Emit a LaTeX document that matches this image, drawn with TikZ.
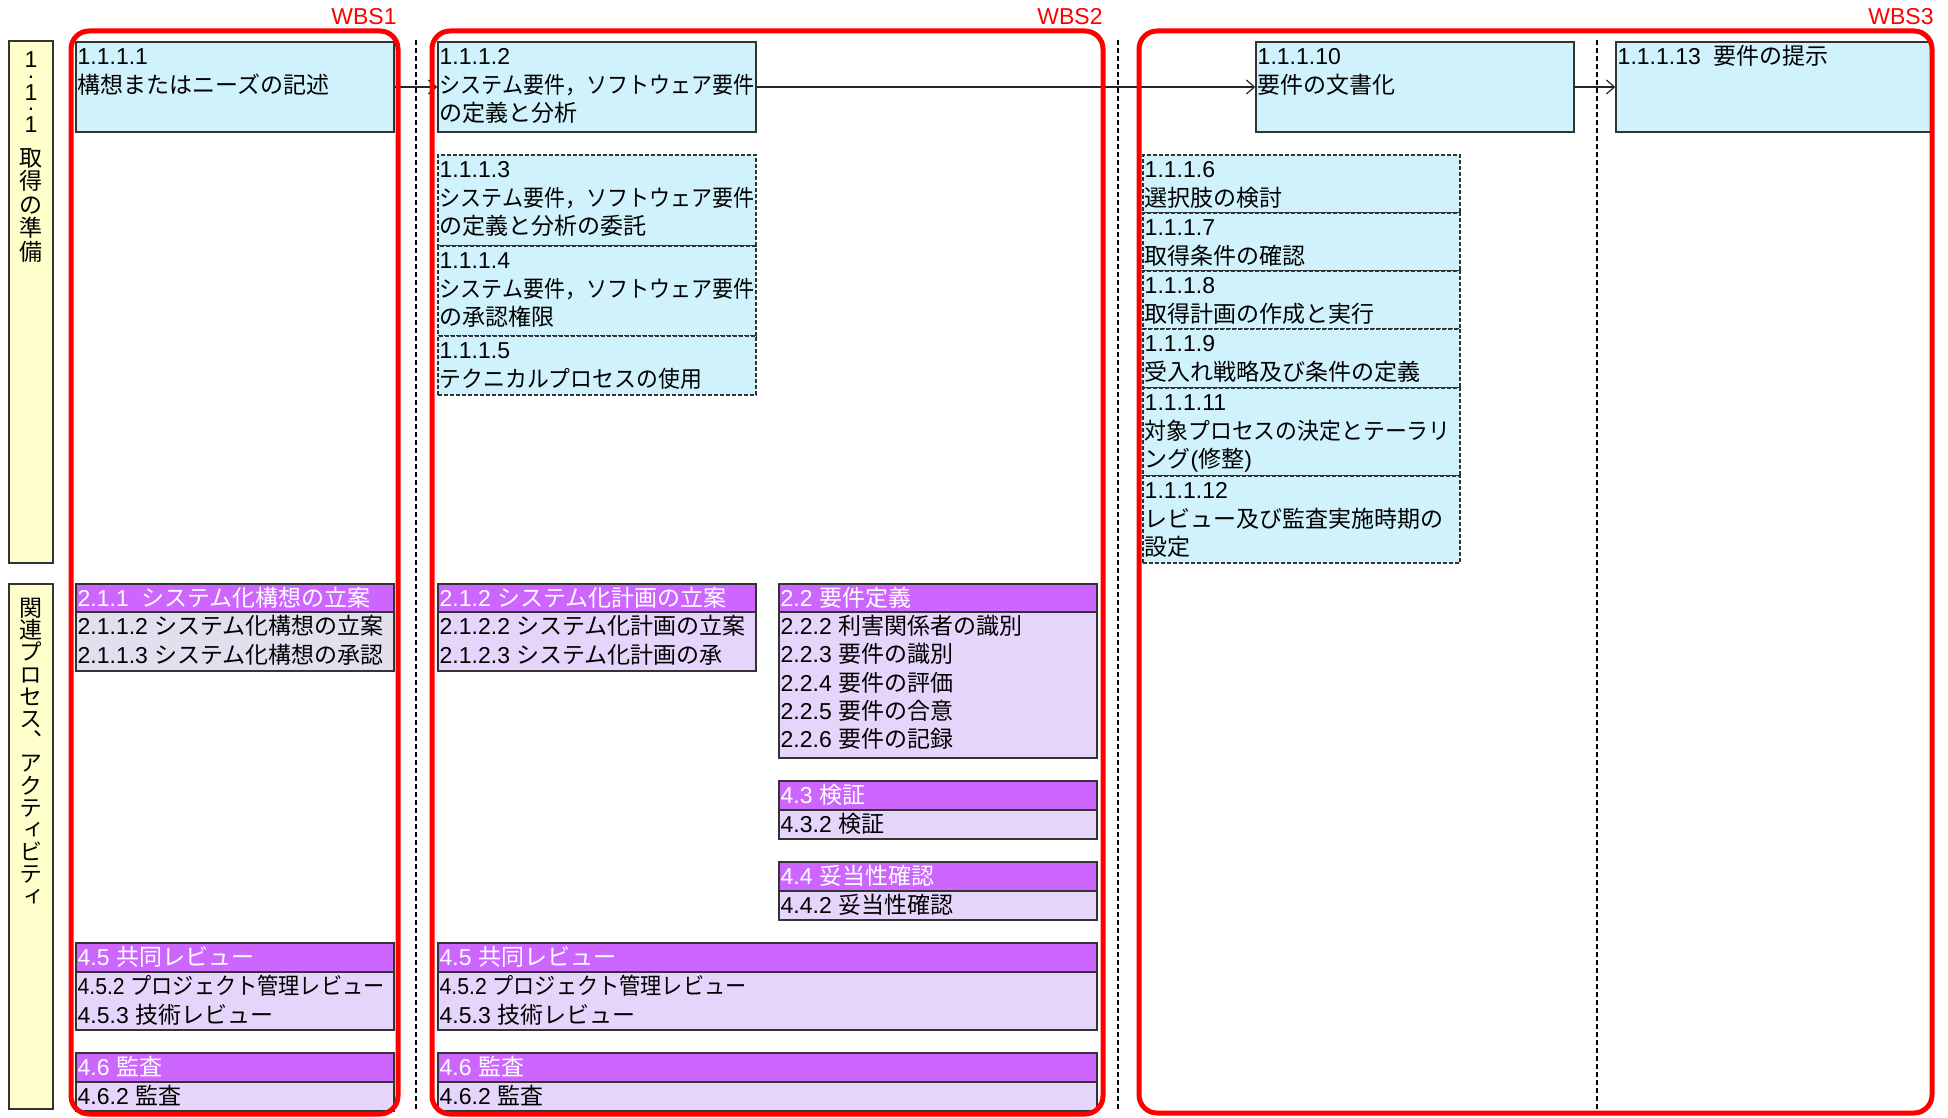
\documentclass[tikz,border=0pt]{standalone}
\usepackage{fontspec}
\usepackage{graphicx}
\setmainfont{Liberation Sans}
\newfontfamily\jpfont{Noto Sans CJK JP}
\newfontfamily\jpvfont{Noto Sans CJK JP}[RawFeature=+vert]
\usetikzlibrary{fit,arrows.meta}
\definecolor{cyf}{HTML}{D0F2FC}
\definecolor{yef}{HTML}{FFFFCC}
\definecolor{phf}{HTML}{CC66FF}
\definecolor{pbf}{HTML}{E6D5FA}
\definecolor{pgf}{HTML}{E4DFEE}
\definecolor{bdc}{HTML}{333333}
\newcommand\JP[1]{{\jpfont #1}}
\newcommand\JV[1]{{\jpvfont #1}}
\newcommand\st{\rule{0pt}{11.5pt}}
\newcommand\sq[2]{\scalebox{#1}[1]{#2}}
\tikzset{
  wbsframe/.style={draw=red, line width=2.5pt, rounded corners=9pt, inner sep=0pt},
  wbslbl/.style={anchor=base east, inner sep=0pt, text=red, font=\fontsize{11.5}{12}\selectfont},
  cybox/.style={draw=bdc, fill=cyf, line width=0.7pt, inner sep=0pt},
  cydash/.style={cybox, dash pattern=on 2pt off 1pt},
  phbox/.style={draw=bdc, fill=phf, line width=0.7pt, inner sep=0pt},
  pbbox/.style={draw=bdc, fill=pbf, line width=0.7pt, inner sep=0pt},
  pgbox/.style={draw=bdc, fill=pgf, line width=0.7pt, inner sep=0pt},
  yebox/.style={draw=bdc, fill=yef, line width=0.7pt, inner sep=0pt},
  tx/.style={anchor=north west, inner sep=0pt, align=left, font=\fontsize{11.5}{14.3}\selectfont},
  wtx/.style={tx, text=white},
  vtx/.style={anchor=north, inner sep=0pt, align=center, font={\fontsize{11.5}{0}\selectfont\lineskiplimit=-100pt\relax\lineskip=0pt\relax}},
  sepl/.style={draw=black, line width=0.7pt, dash pattern=on 2.5pt off 1.5pt},
  arr/.style={draw=black!85, line width=0.6pt, -{Straight Barb[length=4pt,width=7pt]}}
}
\begin{document}
\begin{tikzpicture}[x=0.5pt,y=-0.5pt]
\useasboundingbox (0,0) rectangle (1948,1118);
% separators
\draw[sepl] (416,40) -- (416,1110);
\draw[sepl] (1118,40) -- (1118,1110);
\draw[sepl] (1597,40) -- (1597,1110);
% side labels
\node[yebox, fit={(9,41) (53,563)}] (y1) {};
\node[vtx] (y1t) at (31,47) {\rule{0pt}{10pt}1\\[5.5pt].\\[11pt]1\\[5pt].\\[11pt]1\\[17pt]\JP{取}\\[11.75pt]\JP{得}\\[11.75pt]\JP{の}\\[11.75pt]\JP{準}\\[11.75pt]\JP{備}};
\node[yebox, fit={(9,584) (53,1109)}] (y2) {};
\node[vtx] (y2t) at (31,596) {\rule{0pt}{10pt}\JV{関}\\[11.1pt]\JV{連}\\[11.1pt]\JV{プ}\\[11.1pt]\JV{ロ}\\[11.1pt]\JV{セ}\\[11.1pt]\JV{ス}\\[11.1pt]\JV{、}\\[11.1pt]\JV{ア}\\[11.1pt]\JV{ク}\\[11.1pt]\JV{テ}\\[11.1pt]\JV{ィ}\\[11.1pt]\JV{ビ}\\[11.1pt]\JV{テ}\\[11.1pt]\JV{ィ}};
% top row cyan boxes
\node[cybox, fit={(76,42) (394,132)}] (a1) {};
\node[tx] at ([xshift=1pt]a1.north west) {\st 1.1.1.1\\\JP{構想またはニーズの記述}};
\node[cybox, fit={(438,42) (756,132)}] (a2) {};
\node[tx] at ([xshift=1pt]a2.north west) {\st 1.1.1.2\\\sq{0.913}{\JP{システム要件，ソフトウェア要件}}\\\JP{の定義と分析}};
\node[cybox, fit={(1256,42) (1574,132)}] (a10) {};
\node[tx] at ([xshift=1pt]a10.north west) {\st 1.1.1.10\\\JP{要件の文書化}};
\node[cybox, fit={(1616,42) (1932,132)}] (a13) {};
\node[tx] at ([xshift=1pt]a13.north west) {\st 1.1.1.13\ \ \JP{要件の提示}};
% WBS2 dashed boxes
\node[cydash, fit={(438,155) (756,246)}] (a3) {};
\node[tx] at ([xshift=1pt]a3.north west) {\st 1.1.1.3\\\sq{0.913}{\JP{システム要件，ソフトウェア要件}}\\\JP{の定義と分析の委託}};
\node[cydash, fit={(438,246) (756,336)}] (a4) {};
\node[tx] at ([xshift=1pt]a4.north west) {\st 1.1.1.4\\\sq{0.913}{\JP{システム要件，ソフトウェア要件}}\\\JP{の承認権限}};
\node[cydash, fit={(438,336) (756,395)}] (a5) {};
\node[tx] at ([xshift=1pt]a5.north west) {\st 1.1.1.5\\\sq{0.95}{\JP{テクニカルプロセスの使用}}};
% WBS3 dashed boxes
\node[cydash, fit={(1143,155) (1460,213)}] (a6) {};
\node[tx] at ([xshift=1pt]a6.north west) {\st 1.1.1.6\\\JP{選択肢の検討}};
\node[cydash, fit={(1143,213) (1460,271)}] (a7) {};
\node[tx] at ([xshift=1pt]a7.north west) {\st 1.1.1.7\\\JP{取得条件の確認}};
\node[cydash, fit={(1143,271) (1460,329)}] (a8) {};
\node[tx] at ([xshift=1pt]a8.north west) {\st 1.1.1.8\\\JP{取得計画の作成と実行}};
\node[cydash, fit={(1143,329) (1460,388)}] (a9) {};
\node[tx] at ([xshift=1pt]a9.north west) {\st 1.1.1.9\\\JP{受入れ戦略及び条件の定義}};
\node[cydash, fit={(1143,388) (1460,476)}] (a11) {};
\node[tx] at ([xshift=1pt]a11.north west) {\st 1.1.1.11\\\sq{0.95}{\JP{対象プロセスの決定とテーラリ}}\\\JP{ング}(\JP{修整})};
\node[cydash, fit={(1143,476) (1460,563)}] (a12) {};
\node[tx] at ([xshift=1pt]a12.north west) {\st 1.1.1.12\\\JP{レビュー及び監査実施時期の}\\\JP{設定}};
% purple boxes WBS1
\node[phbox, fit={(76,584) (394,612)}] (p1h) {};
\node[wtx] at ([xshift=1pt]p1h.north west) {\st 2.1.1\ \ \JP{システム化構想の立案}};
\node[pgbox, fit={(76,612) (394,671)}] (p1b) {};
\node[tx] at ([xshift=1pt]p1b.north west) {\st 2.1.1.2 \JP{システム化構想の立案}\\2.1.1.3 \JP{システム化構想の承認}};
\node[phbox, fit={(76,943) (394,972)}] (p6h) {};
\node[wtx] at ([xshift=1pt]p6h.north west) {\st 4.5 \JP{共同レビュー}};
\node[pbbox, fit={(76,972) (394,1030)}] (p6b) {};
\node[tx] at ([xshift=1pt]p6b.north west) {\st\sq{0.92}{4.5.2 \JP{プロジェクト管理レビュー}}\\4.5.3 \JP{技術レビュー}};
\node[phbox, fit={(76,1053) (394,1082)}] (p7h) {};
\node[wtx] at ([xshift=1pt]p7h.north west) {\st 4.6 \JP{監査}};
\node[pbbox, fit={(76,1082) (394,1111)}] (p7b) {};
\node[tx] at ([xshift=1pt]p7b.north west) {\st 4.6.2 \JP{監査}};
% purple boxes WBS2
\node[phbox, fit={(438,584) (756,612)}] (p2h) {};
\node[wtx] at ([xshift=1pt]p2h.north west) {\st 2.1.2 \JP{システム化計画の立案}};
\node[pbbox, fit={(438,612) (756,671)}] (p2b) {};
\node[tx] at ([xshift=1pt]p2b.north west) {\st 2.1.2.2 \JP{システム化計画の立案}\\2.1.2.3 \JP{システム化計画の承}};
\node[phbox, fit={(779,584) (1097,612)}] (p3h) {};
\node[wtx] at ([xshift=1pt]p3h.north west) {\st 2.2 \JP{要件定義}};
\node[pbbox, fit={(779,612) (1097,758)}] (p3b) {};
\node[tx, font=\fontsize{11.5}{14.1}\selectfont] at ([xshift=1pt]p3b.north west) {\st 2.2.2 \JP{利害関係者の識別}\\2.2.3 \JP{要件の識別}\\2.2.4 \JP{要件の評価}\\2.2.5 \JP{要件の合意}\\2.2.6 \JP{要件の記録}};
\node[phbox, fit={(779,781) (1097,810)}] (p4h) {};
\node[wtx] at ([xshift=1pt]p4h.north west) {\st 4.3 \JP{検証}};
\node[pbbox, fit={(779,810) (1097,839)}] (p4b) {};
\node[tx] at ([xshift=1pt]p4b.north west) {\st 4.3.2 \JP{検証}};
\node[phbox, fit={(779,862) (1097,891)}] (p5h) {};
\node[wtx] at ([xshift=1pt]p5h.north west) {\st 4.4 \JP{妥当性確認}};
\node[pbbox, fit={(779,891) (1097,920)}] (p5b) {};
\node[tx] at ([xshift=1pt]p5b.north west) {\st 4.4.2 \JP{妥当性確認}};
\node[phbox, fit={(438,943) (1097,972)}] (p8h) {};
\node[wtx] at ([xshift=1pt]p8h.north west) {\st 4.5 \JP{共同レビュー}};
\node[pbbox, fit={(438,972) (1097,1030)}] (p8b) {};
\node[tx] at ([xshift=1pt]p8b.north west) {\st\sq{0.92}{4.5.2 \JP{プロジェクト管理レビュー}}\\4.5.3 \JP{技術レビュー}};
\node[phbox, fit={(438,1053) (1097,1082)}] (p9h) {};
\node[wtx] at ([xshift=1pt]p9h.north west) {\st 4.6 \JP{監査}};
\node[pbbox, fit={(438,1082) (1097,1111)}] (p9b) {};
\node[tx] at ([xshift=1pt]p9b.north west) {\st 4.6.2 \JP{監査}};
% arrows
\draw[arr] (a1.east) -- (a2.west);
\draw[arr] (a2.east) -- (a10.west);
\draw[arr] (a10.east) -- (a13.west);
% WBS frames
\node[wbsframe, fit={(71,31) (398,1114)}] (w1) {};
\node[wbsframe, fit={(432,31) (1103,1114)}] (w2) {};
\node[wbsframe, fit={(1139,31) (1932,1113)}] (w3) {};
\node[wbslbl] (w1l) at (397,25) {WBS1};
\node[wbslbl] (w2l) at (1103,25) {WBS2};
\node[wbslbl] (w3l) at (1934,25) {WBS3};
\end{tikzpicture}
\end{document}
